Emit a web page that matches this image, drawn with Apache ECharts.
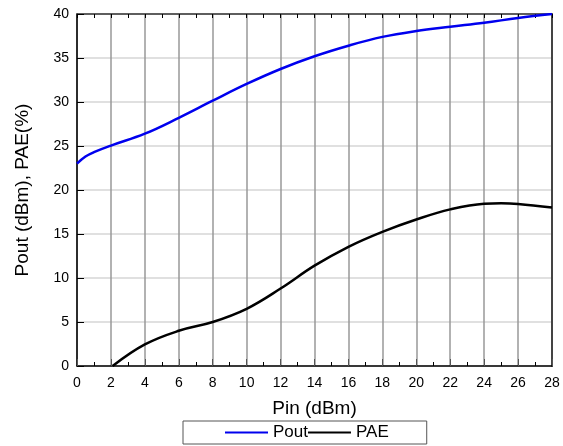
<!DOCTYPE html>
<html>
<head>
<meta charset="utf-8">
<script src="https://cdn.jsdelivr.net/npm/echarts@6/dist/echarts.min.js"></script>
<style>html,body{margin:0;padding:0;background:#fff}#c{width:563px;height:446px}</style>
</head>
<body>
<div id="c"></div>
<script>
var pin = [0,0.5,1,2,4,6,8,10,12,14,16,18,20,22,24,26,28];
var pout = [23.0,23.8,24.3,25.05,26.4,28.2,30.15,32.05,33.75,35.2,36.4,37.4,38.07,38.55,39.0,39.55,40.0];
var paeX = [2.1,4,6,8,10,12,14,16,18,20,22,24,25,26,28];
var pae = [0,2.45,4.0,5.0,6.5,8.8,11.4,13.55,15.25,16.65,17.8,18.45,18.5,18.42,18.0];
var xTitle = 'Pin (dBm)';
var yTitle = 'Pout (dBm), PAE(%)';

function zip(a, b) { return a.map(function (v, i) { return [v, b[i]]; }); }

var font = 'Liberation Sans, Arial, sans-serif';
var chart = echarts.init(document.getElementById('c'), null, {renderer: 'canvas'});
chart.setOption({
  animation: false,
  grid: {left: 77, right: 11, top: 14, bottom: 80},
  legend: {
    left: 183, bottom: 2,
    borderColor: '#555', borderWidth: 1,
    padding: [3, 38, 3, 42],
    itemGap: 0, itemWidth: 43, itemHeight: 2, icon: 'rect',
    textStyle: {fontFamily: font, fontSize: 17, color: '#000'},
    data: ['Pout', 'PAE']
  },
  xAxis: [{
    type: 'value', min: 0, max: 28, interval: 2,
    name: xTitle, nameLocation: 'middle', nameGap: 33,
    nameTextStyle: {fontFamily: font, fontSize: 19, color: '#000'},
    axisLine: {show: true, onZero: false, lineStyle: {color: '#000', width: 1.5}},
    axisTick: {show: true, inside: true, length: 7, lineStyle: {color: '#555'}},
    minorTick: {show: true, splitNumber: 2, length: 4, lineStyle: {color: '#000'}},
    axisLabel: {fontFamily: font, fontSize: 14, color: '#000', margin: 10},
    splitLine: {show: true, lineStyle: {color: '#999', width: 1.5}}
  }, {
    type: 'value', min: 0, max: 28, interval: 2, position: 'top',
    axisLine: {show: true, onZero: false, lineStyle: {color: '#333', width: 1.5}},
    axisTick: {show: true, inside: true, length: 4, lineStyle: {color: '#000'}},
    minorTick: {show: true, splitNumber: 2, length: 4, lineStyle: {color: '#000'}},
    axisLabel: {show: false},
    splitLine: {show: false}
  }],
  yAxis: [{
    type: 'value', min: 0, max: 40, interval: 5,
    name: yTitle, nameLocation: 'middle', nameGap: 45,
    nameTextStyle: {fontFamily: font, fontSize: 19, color: '#000'},
    axisLine: {show: true, onZero: false, lineStyle: {color: '#000', width: 1.5}},
    axisTick: {show: true, inside: true, length: 7, lineStyle: {color: '#000'}},
    axisLabel: {fontFamily: font, fontSize: 14, color: '#000', margin: 8},
    splitLine: {show: true, lineStyle: {color: '#d6d6d6', width: 1.5}}
  }, {
    type: 'value', min: 0, max: 40, interval: 5, position: 'right',
    axisLine: {show: true, onZero: false, lineStyle: {color: '#444', width: 2}},
    axisTick: {show: false},
    axisLabel: {show: false},
    splitLine: {show: false}
  }],
  series: [{
    name: 'Pout', type: 'line', data: zip(pin, pout),
    smooth: 0.4, symbol: 'none',
    lineStyle: {color: '#0000ee', width: 2.5}, itemStyle: {color: '#0000ee'}
  }, {
    name: 'PAE', type: 'line', data: zip(paeX, pae),
    smooth: 0.4, symbol: 'none',
    lineStyle: {color: '#000', width: 2.5}, itemStyle: {color: '#000'}
  }]
});
</script>
</body>
</html>
